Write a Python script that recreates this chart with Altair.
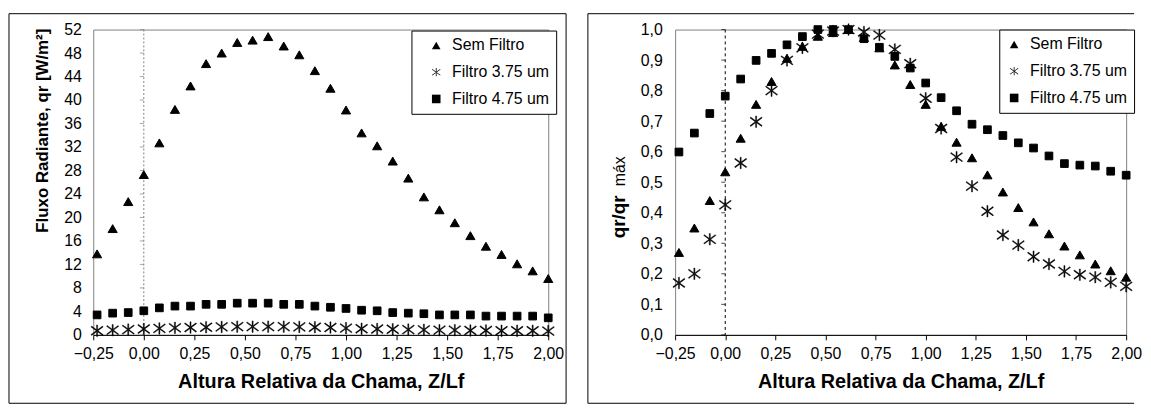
import altair as alt
import pandas as pd

# ---------------- data ----------------
x_rel = [-0.231, -0.154, -0.077, 0.0, 0.077, 0.154, 0.231, 0.308, 0.385, 0.462,
         0.538, 0.615, 0.692, 0.769, 0.846, 0.923, 1.0, 1.077, 1.154, 1.231,
         1.308, 1.385, 1.462, 1.538, 1.615, 1.692, 1.769, 1.846, 1.923, 2.0]

# left panel: Fluxo Radiante [W/m2]
sem_filtro_qr = [13.8, 18.1, 22.7, 27.3, 32.7, 38.4, 42.4, 46.2, 48.0, 49.8,
                 50.2, 50.8, 49.2, 47.7, 45.0, 42.0, 38.3, 34.4, 32.2, 29.6,
                 26.7, 23.5, 21.3, 19.1, 16.9, 15.1, 13.7, 12.1, 10.9, 9.6]
filtro375_qr = [0.7, 0.8, 0.9, 1.0, 1.1, 1.2, 1.25, 1.3, 1.35, 1.4,
                1.4, 1.4, 1.4, 1.35, 1.3, 1.25, 1.15, 1.05, 1.0, 0.95,
                0.9, 0.85, 0.8, 0.8, 0.75, 0.75, 0.7, 0.7, 0.7, 0.65]
filtro475_qr = [3.4, 3.7, 3.8, 4.1, 4.6, 4.9, 4.9, 5.2, 5.2, 5.4,
                5.4, 5.4, 5.2, 5.2, 4.9, 4.7, 4.5, 4.2, 4.1, 3.8,
                3.7, 3.6, 3.4, 3.4, 3.4, 3.2, 3.2, 3.2, 3.2, 2.9]

# right panel: qr / qr max
sem_filtro_norm = [0.27, 0.35, 0.44, 0.534, 0.644, 0.755, 0.83, 0.906, 0.945, 0.978,
                   0.99, 1.0, 0.974, 0.94, 0.884, 0.82, 0.755, 0.683, 0.631, 0.58,
                   0.524, 0.468, 0.417, 0.37, 0.331, 0.291, 0.262, 0.232, 0.21, 0.189]
filtro375_norm = [0.17, 0.20, 0.313, 0.426, 0.563, 0.698, 0.80, 0.899, 0.94, 0.985,
                  0.995, 1.0, 0.992, 0.982, 0.935, 0.888, 0.775, 0.676, 0.582, 0.487,
                  0.405, 0.327, 0.294, 0.256, 0.232, 0.208, 0.197, 0.189, 0.172, 0.159]
filtro475_norm = [0.599, 0.661, 0.725, 0.782, 0.838, 0.899, 0.922, 0.95, 0.977, 1.0,
                  1.0, 1.0, 0.97, 0.942, 0.912, 0.874, 0.825, 0.777, 0.734, 0.69,
                  0.672, 0.653, 0.629, 0.612, 0.586, 0.561, 0.556, 0.553, 0.536, 0.523]

series = ["Sem Filtro", "Filtro 3.75 um", "Filtro 4.75 um"]
x_ticks = [-0.25, 0.0, 0.25, 0.5, 0.75, 1.0, 1.25, 1.5, 1.75, 2.0]
left_y_ticks = [0, 4, 8, 12, 16, 20, 24, 28, 32, 36, 40, 44, 48, 52]
right_y_ticks = [0.0, 0.1, 0.2, 0.3, 0.4, 0.5, 0.6, 0.7, 0.8, 0.9, 1.0]

x_title = "Altura Relativa da Chama, Z/Lf"
left_y_title = "Fluxo Radiante, qr [W/m²]"
right_y_title_main = "qr/qr"
right_y_title_sub = "máx"

# ---------------- styling ----------------
FONT = "Liberation Sans"
# asterisk drawn as three thin filled bars (vertical + two diagonals)
STAR = ("M-0.09,-0.95L0.09,-0.95L0.09,0.95L-0.09,0.95Z"
        "M-1.0,-0.63L0.9,0.77L1.0,0.63L-0.9,-0.77Z"
        "M-0.9,0.77L1.0,-0.63L0.9,-0.77L-1.0,0.63Z")
shape_range = ["triangle-up", STAR, "square"]
sizes = {"Sem Filtro": 85, "Filtro 3.75 um": 150, "Filtro 4.75 um": 60}
strokes = {"Sem Filtro": 1, "Filtro 3.75 um": 0.4, "Filtro 4.75 um": 1}

W_L, W_R, H = 459, 455, 308
BOX_TOP, BOX_BOTTOM = -16, 69


def to_long(vals_list):
    rows = []
    for name, vals in zip(series, vals_list):
        for x, v in zip(x_rel, vals):
            rows.append({"x": x, "v": v, "serie": name})
    return pd.DataFrame(rows)


def frame_layers(width, left_off, right_off, closed):
    one = pd.DataFrame({"a": [0]})
    if closed:
        return [alt.Chart(one).mark_rect(
            fill="transparent", stroke="black", strokeWidth=1
        ).encode(
            x=alt.value(left_off), x2=alt.value(width + right_off),
            y=alt.value(BOX_TOP), y2=alt.value(H + BOX_BOTTOM),
        )]
    # open on the right side: the reference frame runs off the image there
    rule = dict(color="black", strokeWidth=1)
    return [
        alt.Chart(one).mark_rule(**rule).encode(
            x=alt.value(left_off), x2=alt.value(width + right_off),
            y=alt.value(BOX_TOP)),
        alt.Chart(one).mark_rule(**rule).encode(
            x=alt.value(left_off), x2=alt.value(width + right_off),
            y=alt.value(H + BOX_BOTTOM)),
        alt.Chart(one).mark_rule(**rule).encode(
            x=alt.value(left_off), y=alt.value(BOX_TOP),
            y2=alt.value(H + BOX_BOTTOM)),
    ]


def panel(df, width, y_domain, y_ticks, y_label_expr, y_label_pad,
          legend_x, legend_y, symbol_offset, guide_color, dash, title_layers,
          frames):
    xs = alt.Scale(domain=[-0.25, 2.0], nice=False, zero=False)
    ys = alt.Scale(domain=y_domain, nice=False, zero=False)
    legend = alt.Legend(
        title=None, orient="none", legendX=legend_x, legendY=legend_y,
        direction="vertical", strokeColor="black", fillColor="white",
        padding=7, rowPadding=11, labelFont=FONT, labelFontSize=16,
        labelColor="black", labelOffset=8, symbolSize=75,
        symbolFillColor="black", symbolStrokeColor="black",
        symbolStrokeWidth=0.6, symbolOffset=symbol_offset, cornerRadius=0,
    )
    x_axis = alt.Axis(
        values=x_ticks,
        labelExpr="replace(format(datum.value, '.2f'), '.', ',')",
        title=x_title, grid=False, domainColor="black", tickColor="black",
        tickSize=5, labelFont=FONT, labelFontSize=16, labelColor="black",
        labelPadding=6, labelFlush=False, labelOverlap=False,
        titleFont=FONT, titleFontSize=20, titleFontWeight="bold",
        titleColor="black", titlePadding=10,
    )
    y_axis = alt.Axis(
        values=y_ticks, labelExpr=y_label_expr, title=None, ticks=False,
        tickSize=0, domain=False, grid=False, labelFont=FONT,
        labelFontSize=16, labelColor="black", labelPadding=y_label_pad,
    )

    zero_line = alt.Chart(pd.DataFrame({"x": [0.0]})).mark_rule(
        color=guide_color, strokeDash=dash, strokeWidth=1
    ).encode(x=alt.X("x:Q", scale=xs, axis=x_axis))

    tick_marks = alt.Chart(pd.DataFrame({"v": y_ticks})).transform_calculate(
        x="0"
    ).mark_tick(
        orient="horizontal", size=4, thickness=1, color=guide_color, xOffset=-2
    ).encode(
        x=alt.X("x:Q", scale=xs, axis=x_axis),
        y=alt.Y("v:Q", scale=ys, axis=y_axis),
    )

    point_layers = []
    for name in series:
        point_layers.append(
            alt.Chart(df).transform_filter(alt.datum.serie == name).mark_point(
                filled=True, color="black", stroke="black",
                strokeWidth=strokes[name], opacity=1, size=sizes[name],
            ).encode(
                x=alt.X("x:Q", scale=xs, axis=x_axis),
                y=alt.Y("v:Q", scale=ys, axis=y_axis),
                shape=alt.Shape("serie:N",
                                scale=alt.Scale(domain=series, range=shape_range),
                                legend=legend),
            )
        )

    return alt.layer(*frames, zero_line, tick_marks, *point_layers,
                     *title_layers).properties(width=width, height=H)


one_row = pd.DataFrame({"a": [0]})

left_titles = [
    alt.Chart(one_row).mark_text(
        text=left_y_title, font=FONT, fontSize=17, fontWeight="bold",
        angle=270, align="center", baseline="middle", color="black",
    ).encode(x=alt.value(-51), y=alt.value(102)),
]
right_titles = [
    alt.Chart(one_row).mark_text(
        text=right_y_title_main, font=FONT, fontSize=19, fontWeight="bold",
        angle=270, align="center", baseline="alphabetic", color="black",
    ).encode(x=alt.value(-51), y=alt.value(189)),
    alt.Chart(one_row).mark_text(
        text=right_y_title_sub, font=FONT, fontSize=16, fontWeight="normal",
        angle=270, align="center", baseline="alphabetic", color="black",
    ).encode(x=alt.value(-51), y=alt.value(143)),
]

left = panel(
    to_long([sem_filtro_qr, filtro375_qr, filtro475_qr]), W_L,
    [0, 52], left_y_ticks, "format(datum.value, 'd')", 12,
    W_L - 138, 1, 10, "#808080", [2, 2], left_titles,
    frame_layers(W_L, -85, 18, True),
)
right = panel(
    to_long([sem_filtro_norm, filtro375_norm, filtro475_norm]), W_R,
    [0, 1], right_y_ticks, "replace(format(datum.value, '.1f'), '.', ',')", 13,
    W_R - 128, 0, 0, "black", [3, 3], right_titles,
    frame_layers(W_R, -88, 8, False),
)

chart = alt.hconcat(left, right, spacing=20).resolve_scale(
    shape="independent"
).resolve_legend(
    shape="independent"
).properties(
    padding={"left": 0, "top": 3, "right": 0, "bottom": 0},
    background="white",
).configure_view(
    stroke="#808080", strokeWidth=1
)

chart.save("out.html", embed_options={"renderer": "svg", "actions": False})
